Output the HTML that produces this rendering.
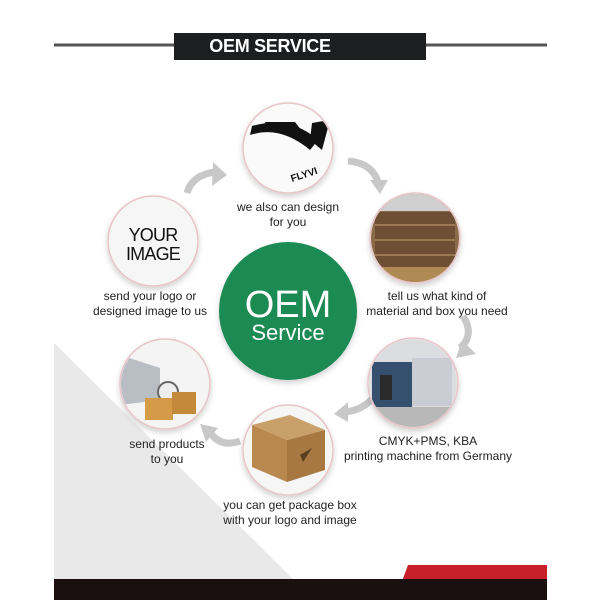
<!DOCTYPE html>
<html><head><style>
body{margin:0;width:600px;height:600px;background:#fff;overflow:hidden;font-family:"Liberation Sans",sans-serif;position:relative}
.t{position:absolute;font-size:12px;color:#222;text-align:center;line-height:15px;white-space:nowrap;transform:translateX(-50%)}
</style></head><body>
<svg width="600" height="600" style="position:absolute;left:0;top:0">
<defs>
<filter id="sh" x="-30%" y="-30%" width="160%" height="160%"><feDropShadow dx="0" dy="3" stdDeviation="3" flood-color="#000" flood-opacity="0.18"/></filter>
<clipPath id="c1"><circle cx="288" cy="148" r="44"/></clipPath>
<clipPath id="c3"><circle cx="415" cy="238" r="44"/></clipPath>
<clipPath id="c4"><circle cx="413" cy="383" r="44"/></clipPath>
<clipPath id="c5"><circle cx="288" cy="450" r="44"/></clipPath>
<clipPath id="c6"><circle cx="165" cy="384" r="44"/></clipPath>
</defs>
<polygon points="54,343 54,579 293,579" fill="#e9e9e9"/>
<polygon points="408,565 547,565 547,600 395,600" fill="#c8202a"/>
<rect x="54" y="579" width="493" height="21" fill="#1a0f0f"/>
<line x1="54" y1="45" x2="547" y2="45" stroke="#555" stroke-width="3"/>
<rect x="174" y="33" width="252" height="27" fill="#1c1e20"/>
<text x="270" y="52" fill="#fff" font-size="18" font-weight="bold" text-anchor="middle" letter-spacing="-0.3" font-family="Liberation Sans,sans-serif">OEM SERVICE</text>
<g fill="none" stroke="#c8c8c8" stroke-width="7">
<path d="M187,193 Q192,175 215,172"/>
<path d="M348,161 Q372,163 378,182"/>
<path d="M463,316 Q475,335 460,348"/>
<path d="M376,394 Q365,410 345,412"/>
<path d="M240,441 Q220,448 210,432"/>
</g>
<g fill="#c8c8c8">
<polygon points="213,162 227,175 212,186"/>
<polygon points="370,180 388,180 380,194"/>
<polygon points="462,340 476,354 456,358"/>
<polygon points="348,402 348,422 334,414"/>
<polygon points="200,424 218,428 206,442"/>
</g>
<g filter="url(#sh)" stroke="#e8c4c8" stroke-width="1.5" fill="#f6f6f6">
<circle cx="288" cy="148" r="45"/>
<circle cx="153" cy="241" r="45"/>
<circle cx="415" cy="238" r="45"/>
<circle cx="413" cy="383" r="45"/>
<circle cx="288" cy="450" r="45"/>
<circle cx="165" cy="384" r="45"/>
</g>
<circle cx="288" cy="311" r="69" fill="#1f8a53" filter="url(#sh)"/>
<text x="288" y="317" fill="#fff" font-size="38" text-anchor="middle" font-family="Liberation Sans,sans-serif">OEM</text>
<text x="288" y="340" fill="#fff" font-size="22" text-anchor="middle" font-family="Liberation Sans,sans-serif">Service</text>
<text x="153" y="241" fill="#111" font-size="18" letter-spacing="-0.8" text-anchor="middle" font-family="Liberation Sans,sans-serif">YOUR</text>
<text x="153" y="260" fill="#111" font-size="18" letter-spacing="-0.8" text-anchor="middle" font-family="Liberation Sans,sans-serif">IMAGE</text>
<g clip-path="url(#c1)">
<rect x="243" y="103" width="90" height="90" fill="#fafafa"/>
<path d="M250,135 Q280,125 310,150 L318,140 Q290,115 252,126 Z" fill="#111"/>
<path d="M265,122 L295,122 L305,135 Q285,125 268,130 Z" fill="#111"/>
<path d="M312,123 L330,120 L322,150 L310,140 Z" fill="#111"/>
<text x="292" y="182" font-size="10" font-weight="bold" fill="#111" transform="rotate(-18 292 182)" font-family="Liberation Sans,sans-serif">FLYVI</text>
</g>
<g clip-path="url(#c3)">
<rect x="370" y="193" width="90" height="90" fill="#8a6a48"/>
<rect x="370" y="193" width="90" height="18" fill="#cfcfcf"/>
<rect x="375" y="212" width="80" height="55" fill="#6e4f33"/>
<g stroke="#a88560" stroke-width="1.5"><line x1="375" y1="225" x2="455" y2="225"/><line x1="375" y1="240" x2="455" y2="240"/><line x1="375" y1="255" x2="455" y2="255"/></g>
<rect x="370" y="267" width="90" height="16" fill="#b08a55"/>
</g>
<g clip-path="url(#c4)">
<rect x="368" y="338" width="90" height="90" fill="#dcdde0"/>
<rect x="372" y="362" width="40" height="45" fill="#34506e"/>
<rect x="412" y="358" width="40" height="48" fill="#c9ccd2"/>
<rect x="380" y="375" width="12" height="25" fill="#2a2a2a"/>
<rect x="368" y="407" width="90" height="21" fill="#b8b8b8"/>
</g>
<g clip-path="url(#c5)">
<polygon points="252,425 290,415 325,430 287,440" fill="#caa06a"/>
<polygon points="252,425 287,440 287,482 252,467" fill="#b9884f"/>
<polygon points="287,440 325,430 325,470 287,482" fill="#a87843"/>
<path d="M300,455 L312,448 L303,462 Z" fill="#5a3e22"/>
</g>
<g clip-path="url(#c6)">
<rect x="120" y="340" width="90" height="88" fill="#f4f4f4"/>
<polygon points="120,355 160,368 160,400 120,405" fill="#b9bec4"/>
<circle cx="168" cy="392" r="10" fill="#eee" stroke="#666" stroke-width="2"/>
<rect x="145" y="398" width="28" height="22" fill="#d49c48"/>
<rect x="172" y="392" width="24" height="22" fill="#c48a3c"/>
</g>
</svg>
<div class="t" style="left:288px;top:200px">we also can design<br>for you</div>
<div class="t" style="left:150px;top:289px">send your logo or<br>designed image to us</div>
<div class="t" style="left:437px;top:289px">tell us what kind of<br>material and box you need</div>
<div class="t" style="left:428px;top:434px">CMYK+PMS, KBA<br>printing machine from Germany</div>
<div class="t" style="left:167px;top:437px">send products<br>to you</div>
<div class="t" style="left:290px;top:498px">you can get package box<br>with your logo and image</div>
</body></html>
